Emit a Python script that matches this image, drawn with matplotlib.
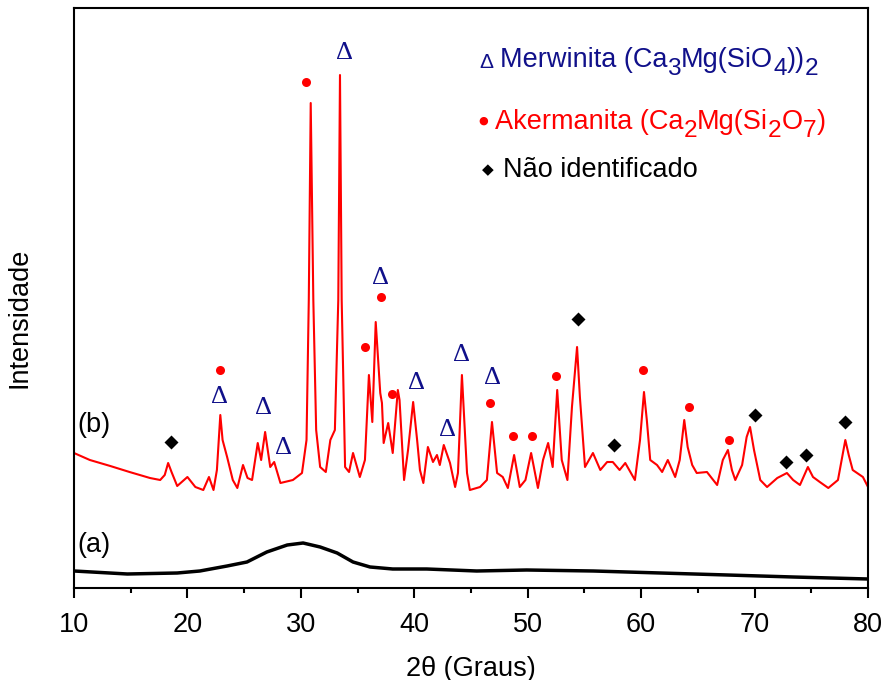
import matplotlib
matplotlib.use("Agg")
import matplotlib.pyplot as plt
from matplotlib.transforms import IdentityTransform

plt.rcParams['font.family'] = ['Liberation Sans', 'DejaVu Sans']

# (b) crystallised sample: 2theta (deg) and intensity (a.u.)
theta_b = [10.0, 11.4, 13.2, 14.9, 16.7, 17.6, 18.0, 18.3, 18.6, 19.1,
           20.0, 20.7, 21.4, 21.9, 22.3, 22.6, 22.9, 23.1, 23.5, 24.0,
           24.4, 24.9, 25.3, 25.7, 26.2, 26.5, 26.85, 27.3, 27.65, 28.2,
           29.3, 30.1, 30.5, 30.7, 30.87, 31.1, 31.35, 31.7, 32.2, 32.6,
           33.0, 33.3, 33.45, 33.6, 33.9, 34.25, 34.6, 35.2, 35.65, 36.0,
           36.3, 36.6, 37.0, 37.15, 37.3, 37.7, 38.1, 38.55, 38.7, 39.1,
           39.45, 39.9, 40.25, 40.5, 40.8, 41.2, 41.65, 42.0, 42.25, 42.6,
           43.15, 43.6, 43.85, 44.2, 44.5, 44.65, 44.9, 45.8, 46.4, 46.85,
           47.3, 47.8, 48.25, 48.8, 49.3, 49.8, 50.3, 50.9, 51.35, 51.8,
           52.2, 52.6, 53.0, 53.5, 53.9, 54.35, 54.6, 55.05, 55.75, 56.4,
           57.0, 57.5, 58.1, 58.6, 59.45, 59.9, 60.25, 60.5, 60.8, 61.4,
           61.85, 62.35, 63.0, 63.4, 63.8, 64.1, 64.5, 64.9, 65.8, 66.7,
           67.2, 67.65, 68.0, 68.3, 68.9, 69.3, 69.6, 69.95, 70.5, 71.1,
           72.0, 72.85, 73.4, 74.0, 74.7, 75.15, 75.75, 76.5, 77.35, 78.0,
           78.3, 78.65, 79.55, 80.0]
int_b = [135, 128, 122, 116, 110, 108, 113, 125, 116, 102,
         111, 101, 98, 111, 98, 118, 173, 148, 131, 108,
         100, 123, 110, 108, 145, 128, 156, 121, 126, 105,
         108, 115, 148, 288, 485, 288, 158, 121, 116, 148,
         158, 288, 513, 288, 121, 116, 135, 111, 128, 213,
         166, 266, 195, 185, 145, 165, 135, 198, 188, 108,
         138, 186, 148, 118, 105, 141, 126, 133, 123, 143,
         125, 101, 115, 213, 148, 115, 98, 101, 108, 166,
         115, 111, 100, 133, 101, 108, 135, 100, 128, 145,
         121, 198, 128, 108, 181, 241, 191, 121, 135, 118,
         126, 126, 118, 125, 108, 148, 196, 168, 128, 123,
         116, 128, 111, 128, 168, 141, 123, 115, 116, 103,
         128, 138, 118, 108, 123, 151, 161, 138, 108, 101,
         110, 115, 108, 103, 121, 111, 106, 100, 108, 148,
         133, 118, 111, 101]

# (a) amorphous sample
theta_a = [10.0, 14.7, 19.1, 21.1, 23.5, 25.25, 27.0, 28.8, 30.2, 31.7,
           33.2, 34.6, 36.1, 38.1, 41.1, 45.5, 49.9, 55.8, 61.7, 67.6,
           73.4, 80.0]
int_a = [17, 14, 15, 17, 22, 26, 36, 43, 45, 41,
         35, 26, 21, 19, 19, 17, 18, 17, 15, 13,
         11, 9]

# phase markers (2theta, height)
merw_x = [22.79, 26.67, 28.43, 33.85, 36.98, 40.16, 42.9, 44.2, 46.86]
merw_y = [191, 180, 140, 535, 310, 205, 158, 233, 210]
aker_x = [30.43, 22.87, 35.66, 37.05, 38.04, 46.68, 48.71, 50.39, 52.5,
          60.18, 64.23, 67.76]
aker_y = [506, 218, 241, 291, 194, 185, 152, 152, 212, 218, 181, 148]
unk_x = [18.55, 54.44, 57.62, 70.05, 72.79, 74.55, 77.99]
unk_y = [146, 269, 143, 173, 126, 133, 166]

navy = '#10108a'
FS = 19.5

fig = plt.figure(figsize=(8.86, 6.80), dpi=100)
ax = fig.add_axes([0.0835, 0.1353, 0.8962, 0.8529])

ax.plot(theta_b, int_b, color='red', lw=1.5)
ax.plot(theta_a, int_a, color='black', lw=2.5)

for x, y in zip(merw_x, merw_y):
    ax.text(x, y, '\u0394', color=navy, fontsize=19, family='Liberation Serif',
            ha='center', va='center')
ax.plot(aker_x, aker_y, 'o', color='red', ms=6.5, mec='none')
ax.plot(unk_x, unk_y, 'D', color='black', ms=7, mec='none')

ax.text(10.3, 163, '(b)', fontsize=FS, va='center', ha='left')
ax.text(10.3, 43, '(a)', fontsize=FS, va='center', ha='left')

ax.set_xlim(10, 80)
ax.set_ylim(0, 580)
ax.set_xticks(range(10, 81, 10))
ax.set_xticks(range(15, 80, 10), minor=True)
ax.set_yticks([])
ax.tick_params(axis='x', which='major', direction='out', length=7, width=1.5,
               labelsize=FS, pad=10)
ax.tick_params(axis='x', which='minor', direction='out', length=3.5, width=1.5)
for s in ax.spines.values():
    s.set_linewidth(1.5)

ax.set_xlabel('2\u03b8 (Graus)', fontsize=FS, labelpad=13)
ax.set_ylabel('Intensidade', fontsize=FS)
ax.yaxis.set_label_coords(-0.052, 0.465)

# phase key, written piece by piece so the subscripts stay large
renderer = fig.canvas.get_renderer()


def formula(x0, baseline, pieces, color):
    x = x0
    for s, sub in pieces:
        size = FS * 0.9 if sub else FS
        y = baseline - 8 if sub else baseline
        t = fig.text(x, y, s, color=color, fontsize=size, ha='left',
                     va='baseline', transform=IdentityTransform())
        x = t.get_window_extent(renderer).x1


H = 680
fig.text(486, H - 62, '\u0394', color=navy, fontsize=15, ha='center',
         va='center', transform=IdentityTransform())
formula(500, H - 67, [('Merwinita (Ca', False), ('3', True), ('Mg(SiO', False),
                      ('4', True), ('))', False), ('2', True)], navy)
fig.text(483, H - 121, '\u25cf', color='red', fontsize=8, ha='center',
         va='center', family='DejaVu Sans', transform=IdentityTransform())
formula(495, H - 129, [('Akermanita (Ca', False), ('2', True), ('Mg(Si', False),
                       ('2', True), ('O', False), ('7', True), (')', False)], 'red')
fig.text(488, H - 170, '\u25c6', color='black', fontsize=11, ha='center',
         va='center', family='DejaVu Sans', transform=IdentityTransform())
formula(503, H - 177, [('Não identificado', False)], 'black')

fig.savefig('out.png', dpi=100)
